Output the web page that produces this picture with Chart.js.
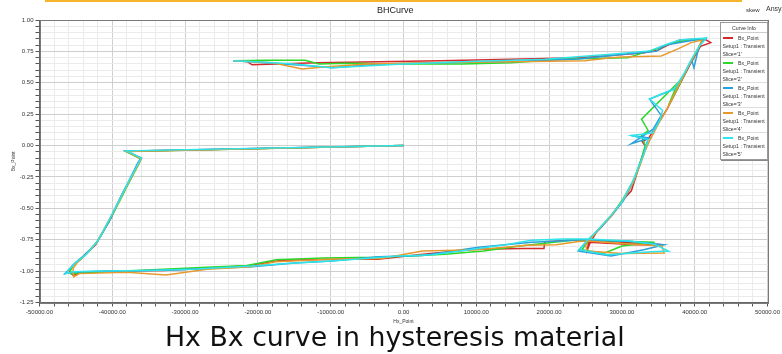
<!DOCTYPE html>
<html>
<head>
<meta charset="utf-8">
<script src="https://cdn.jsdelivr.net/npm/chart.js@4.4.1/dist/chart.umd.min.js"></script>
<style>
  body { margin: 0; background: #fff; }
  #lienzo { position: relative; width: 782px; height: 354px; overflow: hidden; background: #fff; font-family: "Liberation Sans", Arial, sans-serif; }
  #barra { position: absolute; left: 45px; top: 0; width: 697px; height: 2px; background: #f6b42b; }
  #titulo { position: absolute; left: 377px; top: 5px; font-size: 9px; color: #222; }
  #skew { position: absolute; left: 746px; top: 7px; font-size: 6px; color: #333; }
  #ansys { position: absolute; left: 766px; top: 5px; font-size: 7px; color: #333; white-space: nowrap; }
  #contenedor { position: absolute; left: 0; top: 0; }
  #leyenda { position: absolute; left: 720px; top: 22px; width: 46px; height: 136px; background: #fff;
             border: 1px solid #9a9a9a; box-shadow: 1px 1px 0 #8a8a8a; font-size: 5.2px; color: #333; }
  #leyenda .cab { text-align: center; height: 9px; line-height: 10px; border-bottom: 1px solid #ccc; }
  #leyenda .item { position: relative; height: 25px; border-bottom: 1px solid #ddd; box-sizing: border-box; }
  #leyenda .item:last-child { border-bottom: none; }
  #leyenda .muestra { position: absolute; left: 2px; top: 4px; width: 10px; height: 2px; }
  #leyenda .l1 { position: absolute; left: 17px; top: 2px; }
  #leyenda .l2 { position: absolute; left: 1.5px; top: 10px; white-space: nowrap; }
  #leyenda .l3 { position: absolute; left: 1.5px; top: 18px; }
  #pie { position: absolute; left: 0; top: 322px; font-family: "DejaVu Sans", sans-serif; font-size: 26px; line-height: 30px; color: #111; white-space: nowrap; transform-origin: 0 0; }
</style>
</head>
<body>
<div id="lienzo">
  <div id="barra"></div>
  <div id="contenedor"><canvas id="grafico-bh" width="782" height="326"></canvas></div>
  <div id="titulo">BHCurve</div>
  <div id="skew">skew</div>
  <div id="ansys">Ansys</div>
  <div id="leyenda"></div>
  <div id="pie">Hx Bx curve in hysteresis material</div>
</div>
<script>
// Datos: pares [Hx_Point, Bx_Point] de cada slice
const slice1 = [[0,0.000],[-38100,-0.045],[-36000,-0.100],[-36500,-0.150],[-37500,-0.270],[-38600,-0.380],[-40200,-0.580],[-41400,-0.700],[-42300,-0.790],[-44200,-0.900],[-45500,-0.960],[-45900,-1.010],[-45300,-1.035],[-44500,-1.010],[-40000,-1.000],[-33000,-0.995],[-26000,-0.975],[-21000,-0.955],[-17000,-0.915],[-10000,-0.905],[-3500,-0.905],[2000,-0.870],[10000,-0.825],[16500,-0.820],[19300,-0.820],[19400,-0.765],[24000,-0.750],[25300,-0.750],[30000,-0.770],[35600,-0.790],[32000,-0.790],[25400,-0.770],[25300,-0.825],[25600,-0.780],[26500,-0.690],[27000,-0.660],[28500,-0.560],[30200,-0.430],[31300,-0.360],[31800,-0.270],[32900,-0.070],[33300,-0.010],[32800,0.030],[33700,0.060],[35000,0.180],[36200,0.290],[37700,0.460],[39500,0.660],[40800,0.790],[42200,0.820],[41300,0.850],[38000,0.840],[36300,0.800],[35000,0.760],[33100,0.740],[28000,0.715],[24000,0.700],[14800,0.688],[5000,0.675],[-3400,0.667],[-12000,0.660],[-17500,0.650],[-20800,0.643],[-21500,0.670],[-23400,0.675]];
const slice2 = [[0,0.000],[-38100,-0.048],[-36100,-0.105],[-36300,-0.140],[-37400,-0.260],[-38800,-0.420],[-40400,-0.600],[-42000,-0.760],[-44000,-0.890],[-45400,-0.955],[-45800,-1.000],[-45600,-1.025],[-44800,-1.015],[-40500,-1.005],[-33000,-0.985],[-27000,-0.970],[-21500,-0.955],[-17500,-0.910],[-11000,-0.895],[-4000,-0.890],[1000,-0.880],[5700,-0.866],[11000,-0.840],[16000,-0.800],[20000,-0.775],[24000,-0.750],[25200,-0.755],[29000,-0.760],[34500,-0.770],[30000,-0.800],[27500,-0.860],[24500,-0.830],[25400,-0.760],[26600,-0.680],[28400,-0.570],[30000,-0.440],[31600,-0.280],[32700,-0.100],[33200,0.000],[32700,0.080],[33600,0.120],[32700,0.210],[37700,0.500],[36400,0.320],[37600,0.450],[39400,0.660],[40600,0.780],[41100,0.845],[39000,0.840],[36500,0.810],[34800,0.770],[33000,0.740],[30800,0.700],[22000,0.690],[14800,0.660],[8000,0.650],[0,0.650],[-8000,0.655],[-11600,0.650],[-13500,0.680],[-19000,0.680],[-23400,0.675]];
const slice3 = [[0,0.000],[-38100,-0.045],[-36100,-0.100],[-36600,-0.150],[-37800,-0.290],[-39200,-0.450],[-40500,-0.610],[-42200,-0.780],[-44000,-0.880],[-45200,-0.940],[-46000,-0.990],[-46500,-1.020],[-45500,-1.010],[-44000,-1.005],[-38000,-1.000],[-31000,-0.990],[-25000,-0.975],[-20800,-0.965],[-15000,-0.935],[-9900,-0.920],[-3400,-0.885],[2600,-0.875],[10300,-0.810],[17600,-0.770],[21500,-0.760],[24200,-0.750],[25200,-0.752],[31400,-0.765],[35800,-0.790],[33000,-0.830],[28500,-0.880],[24000,-0.840],[24600,-0.800],[25600,-0.740],[26800,-0.670],[28600,-0.560],[30200,-0.440],[31600,-0.290],[32900,-0.080],[33600,0.050],[31300,0.080],[33800,0.060],[31300,0.015],[34300,0.130],[35400,0.240],[33800,0.370],[37200,0.450],[38500,0.560],[39600,0.680],[39900,0.620],[40600,0.790],[41500,0.855],[39000,0.830],[36000,0.800],[34700,0.750],[30000,0.725],[24000,0.690],[15000,0.670],[5000,0.660],[-3400,0.650],[-9800,0.620],[-14000,0.640],[-19000,0.660],[-23400,0.675]];
const slice4 = [[0,0.000],[-38000,-0.048],[-36000,-0.105],[-36500,-0.160],[-37900,-0.310],[-39300,-0.470],[-40800,-0.630],[-42000,-0.760],[-43300,-0.850],[-44800,-0.930],[-45400,-0.980],[-45300,-1.045],[-44500,-1.020],[-38000,-1.010],[-32600,-1.030],[-27000,-0.985],[-21000,-0.965],[-17600,-0.925],[-10000,-0.905],[-3000,-0.900],[2600,-0.840],[10000,-0.830],[17000,-0.795],[21000,-0.790],[24000,-0.765],[25400,-0.760],[30000,-0.780],[35500,-0.800],[35800,-0.855],[30000,-0.860],[25200,-0.840],[25000,-0.780],[26000,-0.720],[27200,-0.640],[28600,-0.560],[30300,-0.420],[31500,-0.300],[32600,-0.140],[33200,-0.040],[33900,0.050],[35000,0.170],[36200,0.290],[37700,0.470],[39300,0.650],[40500,0.780],[41000,0.840],[39500,0.820],[37700,0.770],[35400,0.714],[30000,0.705],[28500,0.700],[24900,0.675],[15000,0.668],[5000,0.662],[-5000,0.650],[-11000,0.625],[-13900,0.610],[-18000,0.660],[-23400,0.675]];
const slice5 = [[0,0.000],[-38100,-0.042],[-36000,-0.098],[-36400,-0.140],[-37600,-0.270],[-39000,-0.430],[-40500,-0.600],[-41900,-0.750],[-43600,-0.870],[-45000,-0.930],[-45800,-0.980],[-46400,-1.020],[-45400,-1.005],[-42000,-1.000],[-35000,-0.995],[-29000,-0.985],[-24000,-0.970],[-20800,-0.960],[-16000,-0.940],[-9900,-0.920],[-700,-0.880],[4000,-0.870],[10300,-0.820],[14000,-0.790],[17600,-0.755],[22000,-0.745],[25100,-0.745],[31000,-0.760],[34500,-0.786],[36400,-0.840],[34000,-0.845],[28000,-0.870],[24100,-0.830],[25300,-0.750],[26400,-0.690],[28300,-0.570],[30000,-0.450],[31600,-0.270],[33000,-0.070],[33600,0.050],[31300,0.080],[34200,0.100],[35200,0.200],[35600,0.280],[33800,0.370],[37200,0.450],[38500,0.570],[39500,0.680],[40600,0.790],[41600,0.855],[40000,0.850],[37900,0.840],[36300,0.810],[33800,0.754],[28500,0.728],[19400,0.688],[8000,0.668],[-700,0.648],[-9800,0.620],[-15000,0.650],[-19500,0.665],[-23400,0.675]];

const series = [slice1, slice2, slice3, slice4, slice5];
const slices = ["'1'", "'2'", "'3'", "'4'", "'5'"];
const colores = ["#d42a2e", "#2cd82a", "#2a9fdc", "#e69a2e", "#2fe4ea"];
const nombreSerie = "Bx_Point";
const nombreSetup = "Setup1 : Transient";

// Ejes
const hxLimites = [-50000, 50000];
const hxPaso = 2000;      // lineas menores
const hxMayor = 10000;    // lineas con etiqueta
const bxLimites = [-1.25, 1.0];
const bxPaso = 0.05;
const bxMayor = 0.25;

function esMayor(valor, paso) {
  const r = valor / paso;
  return Math.abs(r - Math.round(r)) < 1e-6;
}

// Marco gris alrededor del area del grafico
const marco = {
  id: "marco",
  afterDatasetsDraw(chart) {
    const a = chart.chartArea;
    const ctx = chart.ctx;
    ctx.save();
    ctx.strokeStyle = "#7a7a7a";
    ctx.lineWidth = 1;
    ctx.strokeRect(Math.round(a.left) + 0.5, Math.round(a.top) + 0.5, Math.round(a.right - a.left), Math.round(a.bottom - a.top));
    ctx.restore();
  },
};

function crearGrafico() {
  const ctx = document.getElementById("grafico-bh").getContext("2d");
  new Chart(ctx, {
    type: "scatter",
    data: {
      datasets: series.map((s, i) => ({
        label: nombreSerie + " " + slices[i],
        data: s.map((p) => ({ x: p[0], y: p[1] })),
        showLine: true,
        borderColor: colores[i],
        backgroundColor: colores[i],
        borderWidth: 1.5,
        pointRadius: 0,
        tension: 0,
        order: series.length - i,
      })),
    },
    options: {
      responsive: false,
      animation: false,
      layout: { padding: { top: 20, right: 12, left: 0, bottom: 0 } },
      plugins: {
        legend: { display: false },
        tooltip: { enabled: false },
      },
      scales: {
        x: {
          type: "linear",
          min: hxLimites[0],
          max: hxLimites[1],
          afterFit: (s) => { s.height = 23.5; },
          ticks: {
            stepSize: hxPaso,
            maxTicksLimit: 200,
            autoSkip: false,
            maxRotation: 0,
            padding: 2,
            color: "#333",
            font: { family: "Liberation Sans", size: 6 },
            callback: (v) => (esMayor(v, hxMayor) ? v.toFixed(2) : ""),
          },
          grid: {
            color: (c) => (c.tick && esMayor(c.tick.value, hxMayor) ? "#cfcfcf" : "#ebebeb"),
            tickColor: "#555",
            tickLength: 4,
          },
          border: { color: "#666" },
          title: {
            display: true,
            text: "Hx_Point",
            color: "#333",
            font: { family: "Liberation Sans", size: 5 },
            padding: { top: 0, bottom: 1 },
          },
        },
        y: {
          type: "linear",
          min: bxLimites[0],
          max: bxLimites[1],
          afterFit: (s) => { s.width = 39.5; },
          ticks: {
            stepSize: bxPaso,
            maxTicksLimit: 200,
            autoSkip: false,
            padding: 2,
            color: "#333",
            font: { family: "Liberation Sans", size: 6 },
            callback: (v) => (esMayor(v, bxMayor) ? v.toFixed(2) : ""),
          },
          grid: {
            color: (c) => (c.tick && esMayor(c.tick.value, bxMayor) ? "#cfcfcf" : "#ebebeb"),
            tickColor: "#555",
            tickLength: 4,
          },
          border: { color: "#666" },
          title: {
            display: true,
            text: "Bx_Point",
            color: "#333",
            font: { family: "Liberation Sans", size: 5 },
            padding: { top: 11, bottom: 0 },
          },
        },
      },
    },
    plugins: [marco],
  });
}

// Leyenda "Curve Info"
function generarLeyenda() {
  const caja = document.getElementById("leyenda");
  let html = '<div class="cab">Curve Info</div>';
  series.forEach((s, i) => {
    html += `<div class="item">
      <div class="muestra" style="background:${colores[i]}"></div>
      <div class="l1">${nombreSerie}</div>
      <div class="l2">${nombreSetup}</div>
      <div class="l3">Slice=${slices[i]}</div>
    </div>`;
  });
  caja.innerHTML = html;
}

// Ajustar el pie al ancho de la imagen original
function ajustarPie() {
  const pie = document.getElementById("pie");
  const ancho = pie.offsetWidth;
  const k = 460 / ancho;
  pie.style.left = "165px";
  pie.style.transform = `scaleX(${k})`;
}

document.addEventListener("DOMContentLoaded", () => {
  crearGrafico();
  generarLeyenda();
  ajustarPie();
});
</script>
</body>
</html>
